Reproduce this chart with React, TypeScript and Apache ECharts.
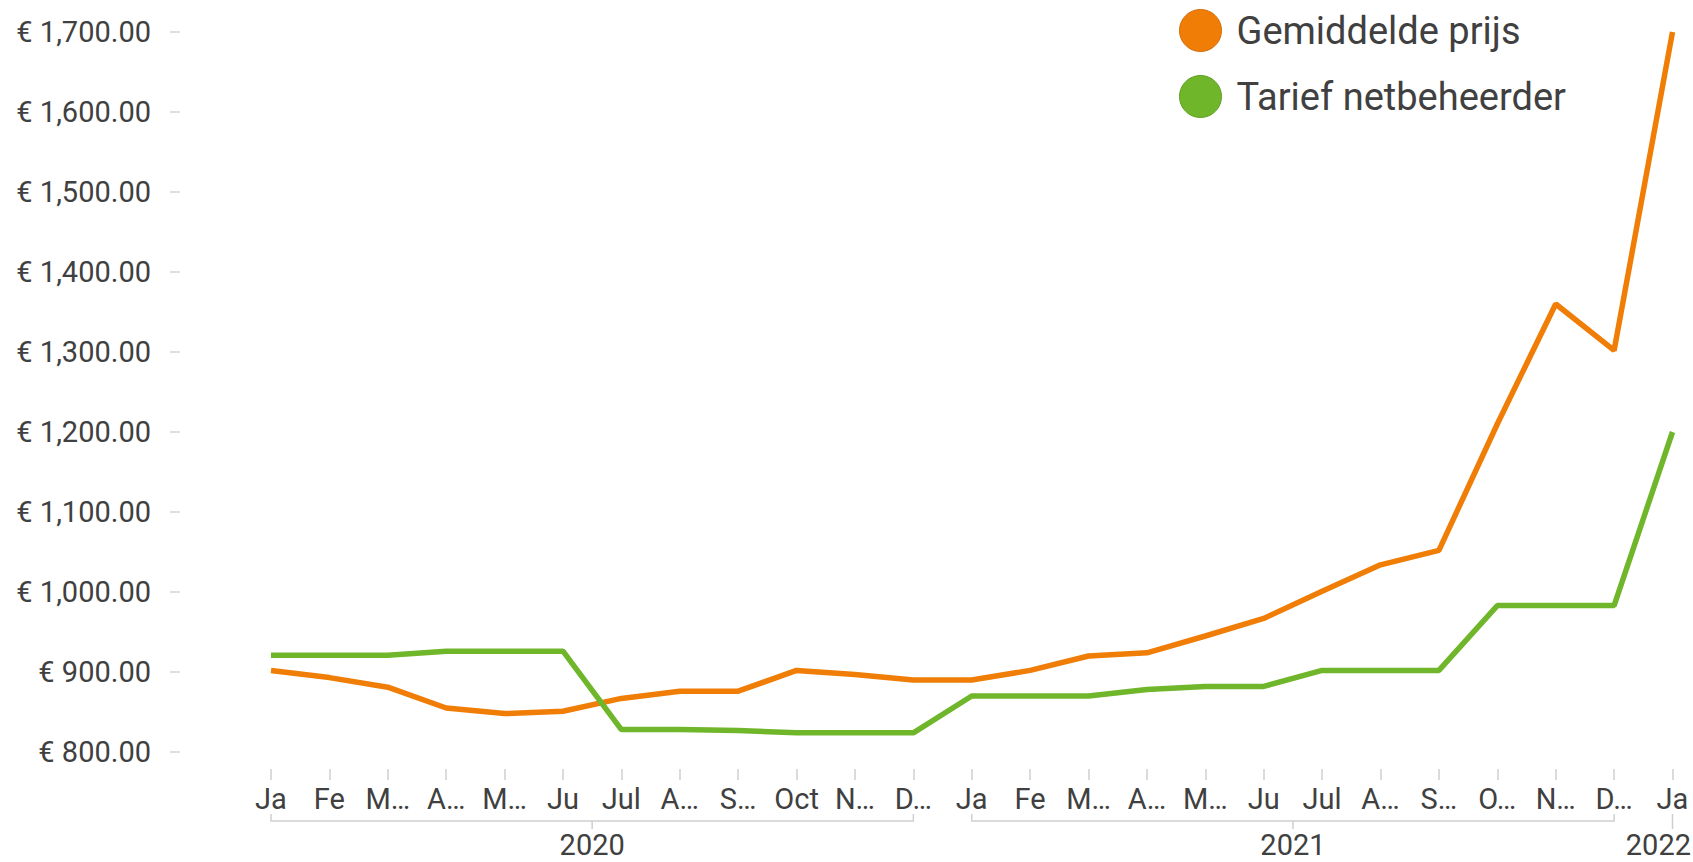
import React, { useEffect, useRef } from "react";
import * as echarts from "echarts";

const categories = [
  "2020-01", "2020-02", "2020-03", "2020-04", "2020-05", "2020-06",
  "2020-07", "2020-08", "2020-09", "2020-10", "2020-11", "2020-12",
  "2021-01", "2021-02", "2021-03", "2021-04", "2021-05", "2021-06",
  "2021-07", "2021-08", "2021-09", "2021-10", "2021-11", "2021-12",
  "2022-01",
];
const monthLabels = [
  "Ja", "Fe", "M…", "A…", "M…", "Ju", "Jul", "A…", "S…", "Oct", "N…", "D…",
  "Ja", "Fe", "M…", "A…", "M…", "Ju", "Jul", "A…", "S…", "O…", "N…", "D…",
  "Ja",
];
const years = ["2020", "2021", "2022"];
const gemiddeldePrijs = [
  902, 893, 881, 855, 848, 851, 867, 876, 876, 902, 897, 890,
  890, 902, 920, 924, 945, 967, 1001, 1034, 1052, 1210, 1360, 1302,
  1700,
];
const tariefNetbeheerder = [
  921, 921, 921, 926, 926, 926, 828, 828, 827, 824, 824, 824,
  870, 870, 870, 878, 882, 882, 902, 902, 902, 983, 983, 983,
  1200,
];
const seriesNames = ["Gemiddelde prijs", "Tarief netbeheerder"];
const yMin = 800;
const yMax = 1700;
const yInterval = 100;

const W = 1693;
const H = 862;
const ORANGE = "#F07D06";
const GREEN = "#70B62A";
const TEXT = "#404040";
const FONT = "Roboto";

export default function App() {
  const ref = useRef<HTMLDivElement>(null);
  useEffect(() => {
    if (!ref.current) return;
    const chart = echarts.init(ref.current, undefined, { renderer: "svg" });
    chart.setOption({
      animation: false,
      textStyle: { fontFamily: FONT },
      grid: { left: 271, right: 20.5, top: 32, bottom: 110 },
      legend: {
        orient: "vertical",
        left: 1179,
        top: 9,
        padding: 0,
        icon: "circle",
        itemWidth: 42,
        itemHeight: 42,
        itemGap: 23,
        textStyle: { fontSize: 38, color: TEXT, fontFamily: FONT, padding: [0, 0, 0, 10] },
        data: [
          { name: seriesNames[0], itemStyle: { color: ORANGE, borderColor: "#D46C0A", borderWidth: 1 } },
          { name: seriesNames[1], itemStyle: { color: GREEN, borderColor: "#5E9E22", borderWidth: 1 } },
        ],
      },
      xAxis: {
        type: "category",
        data: categories,
        boundaryGap: false,
        offset: 17,
        axisLine: { show: false },
        axisTick: { show: true, length: 11, lineStyle: { color: "#cfcfcf", width: 1.5 } },
        axisLabel: {
          interval: 0,
          margin: 15,
          fontSize: 29,
          color: TEXT,
          fontFamily: FONT,
          formatter: (_v: string, i: number) => monthLabels[i],
        },
        splitLine: { show: false },
      },
      yAxis: {
        type: "value",
        min: yMin,
        max: yMax,
        interval: yInterval,
        offset: 91,
        axisLine: { show: false },
        axisTick: { show: true, length: 10, lineStyle: { color: "#d5d5d5", width: 1.5 } },
        splitLine: { show: false },
        axisLabel: {
          margin: 29,
          fontSize: 29,
          color: TEXT,
          fontFamily: FONT,
          formatter: (v: number) =>
            "€ " + v.toLocaleString("en-US", { minimumFractionDigits: 2, maximumFractionDigits: 2 }),
        },
      },
      series: [
        {
          name: seriesNames[0],
          type: "line",
          data: gemiddeldePrijs,
          symbol: "none",
          lineStyle: { color: ORANGE, width: 5.5 },
          itemStyle: { color: ORANGE },
        },
        {
          name: seriesNames[1],
          type: "line",
          data: tariefNetbeheerder,
          symbol: "none",
          lineStyle: { color: GREEN, width: 5.5 },
          itemStyle: { color: GREEN },
        },
      ],
    });

    // Year brackets under the month labels, positioned via the axis scale
    const by = 821;
    const yearFont = 29;
    const elements: any[] = [];
    years.forEach((yr) => {
      const idxs = categories.map((c, i) => (c.startsWith(yr) ? i : -1)).filter((i) => i >= 0);
      const x0 = chart.convertToPixel({ xAxisIndex: 0 }, categories[idxs[0]]) as number;
      const x1 = chart.convertToPixel({ xAxisIndex: 0 }, categories[idxs[idxs.length - 1]]) as number;
      const cx = (x0 + x1) / 2;
      const lineStyle = { stroke: "#cfcfcf", lineWidth: 1.5 };
      if (x1 - x0 > 1) {
        elements.push({
          type: "polyline",
          shape: { points: [[x0, by - 7], [x0, by], [x1, by], [x1, by - 7]] },
          style: { ...lineStyle, fill: null },
        });
        elements.push({ type: "line", shape: { x1: cx, y1: by, x2: cx, y2: by + 8 }, style: lineStyle });
      } else {
        elements.push({ type: "line", shape: { x1: cx, y1: by - 7, x2: cx, y2: by + 8 }, style: lineStyle });
      }
      const estW = yr.length * 0.562 * yearFont;
      let tx = cx;
      let align = "center";
      if (cx + estW / 2 > W - 2) {
        tx = W - 2;
        align = "right";
      }
      elements.push({
        type: "text",
        x: tx,
        y: 845,
        style: {
          text: yr,
          fontSize: yearFont,
          fontFamily: FONT,
          fill: TEXT,
          align,
          verticalAlign: "middle",
        },
      });
    });
    chart.setOption({ graphic: { elements } });

    return () => chart.dispose();
  }, []);
  return (
    <div
      ref={ref}
      style={{ position: "fixed", left: 0, top: 0, width: W, height: H, background: "#fff" }}
    />
  );
}
